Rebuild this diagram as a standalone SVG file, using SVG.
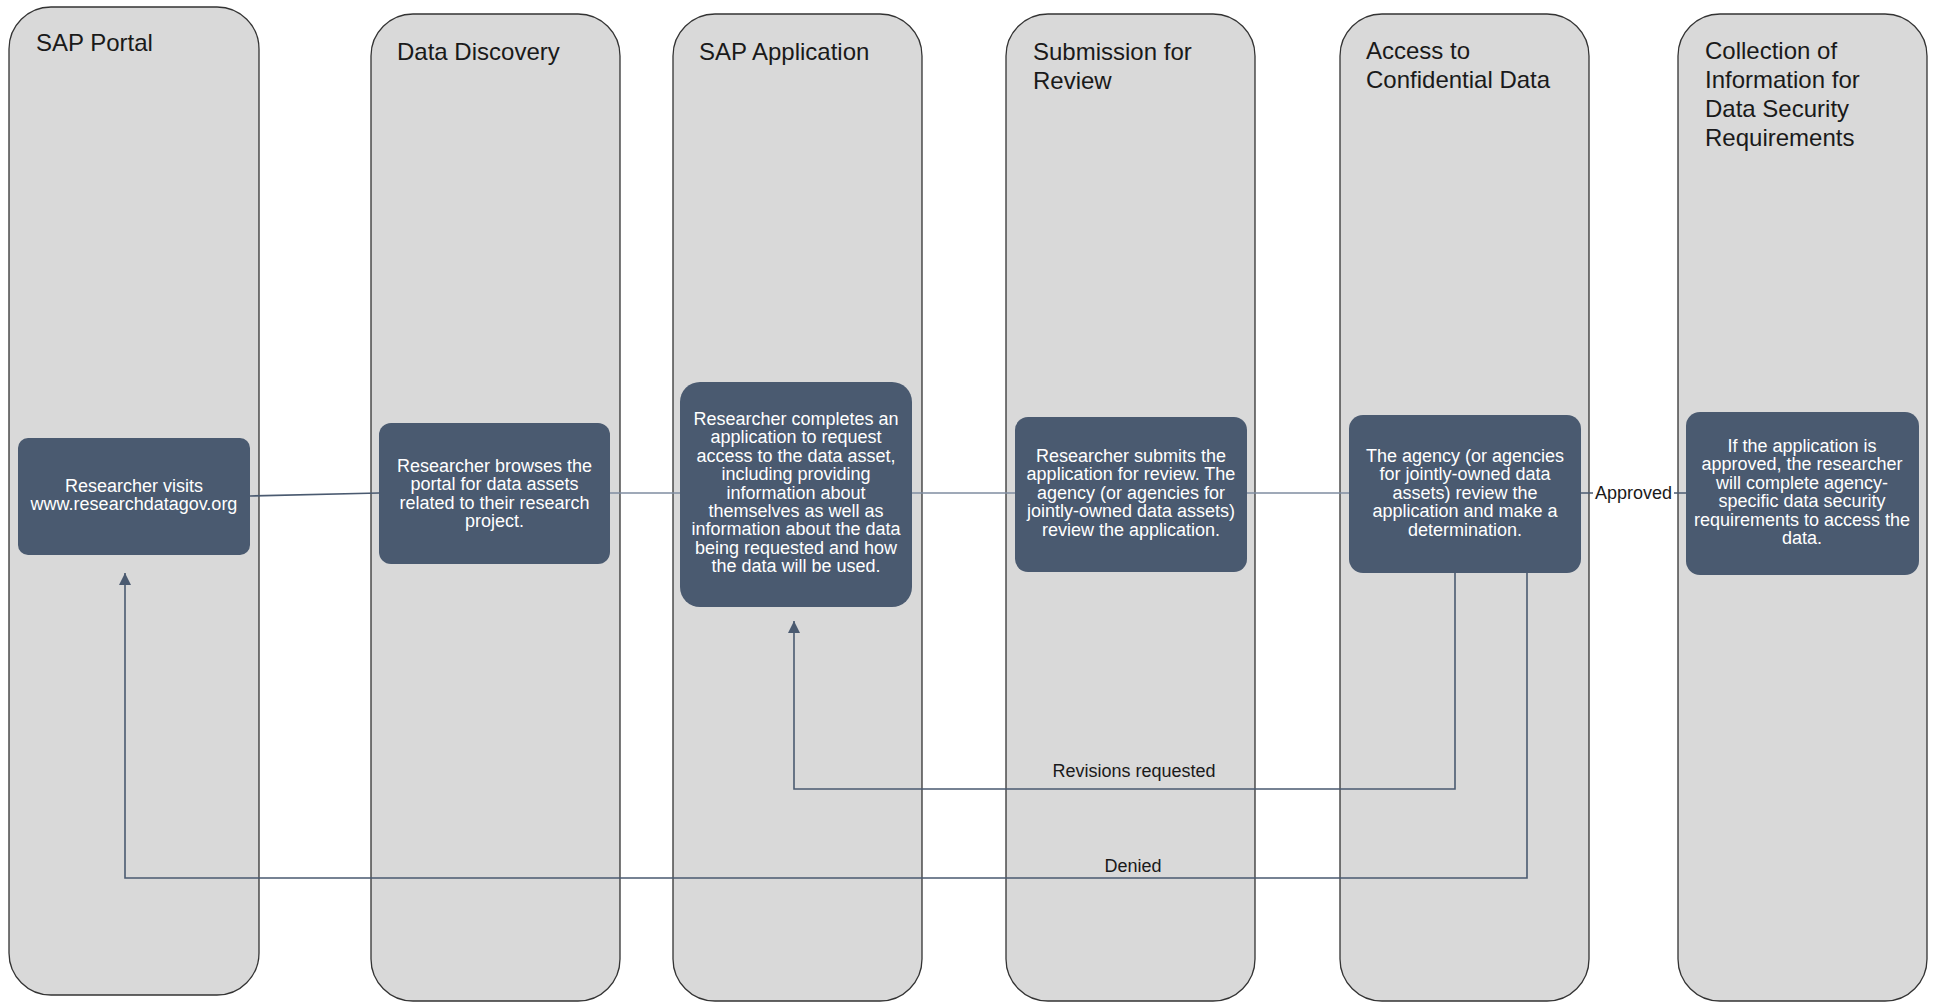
<svg xmlns="http://www.w3.org/2000/svg" width="1936" height="1003" viewBox="0 0 1936 1003">
<style>
.lane{fill:#d9d9d9;stroke:#333333;stroke-width:1.3}
.title{font-family:"Liberation Sans",Arial,sans-serif;font-size:24px;fill:#1a1a1a}
.node{fill:#4a5a70}
.ntext{font-family:"Liberation Sans",Arial,sans-serif;font-size:18px;fill:#ffffff;text-anchor:middle}
.conn{fill:none;stroke:#4a5a70;stroke-width:1.6}
.connl{fill:none;stroke:#7f8ca0;stroke-width:1.6}
.lbl{font-family:"Liberation Sans",Arial,sans-serif;font-size:18px;fill:#1a1a1a;text-anchor:middle}
</style>
<defs>
<marker id="arrow" markerWidth="12" markerHeight="14" refX="12" refY="6" orient="auto" markerUnits="userSpaceOnUse" viewBox="0 0 12 12">
<path d="M0,0 L12,6 L0,12 Z" fill="#4a5a70"/>
</marker>
</defs>
<rect width="1936" height="1003" fill="#ffffff"/>
<g id="lanes">
<g id="lane-sap-portal">
<rect class="lane" x="9" y="7" width="250" height="988" rx="42" ry="42"/>
<text class="title" x="36" y="51">SAP Portal</text>
</g>
<g id="lane-data-discovery">
<rect class="lane" x="371" y="14" width="249" height="987" rx="42" ry="42"/>
<text class="title" x="397" y="60">Data Discovery</text>
</g>
<g id="lane-sap-application">
<rect class="lane" x="673" y="14" width="249" height="987" rx="42" ry="42"/>
<text class="title" x="699" y="60">SAP Application</text>
</g>
<g id="lane-submission">
<rect class="lane" x="1006" y="14" width="249" height="987" rx="42" ry="42"/>
<text class="title" x="1033" y="60">Submission for<tspan x="1033" dy="29">Review</tspan></text>
</g>
<g id="lane-access">
<rect class="lane" x="1340" y="14" width="249" height="987" rx="42" ry="42"/>
<text class="title" x="1366" y="59">Access to<tspan x="1366" dy="29">Confidential Data</tspan></text>
</g>
<g id="lane-collection">
<rect class="lane" x="1678" y="14" width="249" height="987" rx="42" ry="42"/>
<text class="title" x="1705" y="59">Collection of<tspan x="1705" dy="29">Information for</tspan><tspan x="1705" dy="29">Data Security</tspan><tspan x="1705" dy="29">Requirements</tspan></text>
</g>
</g>
<g id="connectors">
<path class="conn" d="M250,496 L379,493"/>
<path class="connl" d="M610,493 L680,493"/>
<path class="connl" d="M912,493 L1015,493"/>
<path class="connl" d="M1247,493 L1349,493"/>
<path class="conn" d="M1581,493 L1686,493"/>
<rect x="1593" y="480" width="81" height="24" fill="#ffffff"/>
<text class="lbl" x="1633.5" y="499">Approved</text>
<path class="conn" d="M1455,573 L1455,789 L794,789 L794,621" marker-end="url(#arrow)"/>
<text class="lbl" x="1134" y="777">Revisions requested</text>
<path class="conn" d="M1527,573 L1527,878 L125,878 L125,573" marker-end="url(#arrow)"/>
<text class="lbl" x="1133" y="872">Denied</text>
</g>
<g id="node-visit">
<rect class="node" x="18" y="438" width="232" height="117" rx="10" ry="10"/>
<text class="ntext" x="134" y="492">Researcher visits<tspan x="134" dy="18.4">www.researchdatagov.org</tspan></text>
</g>
<g id="node-browse">
<rect class="node" x="379" y="423" width="231" height="141" rx="12" ry="12"/>
<text class="ntext" x="494.5" y="472">Researcher browses the<tspan x="494.5" dy="18.4">portal for data assets</tspan><tspan x="494.5" dy="18.4">related to their research</tspan><tspan x="494.5" dy="18.4">project.</tspan></text>
</g>
<g id="node-application">
<rect class="node" x="680" y="382" width="232" height="225" rx="20" ry="20"/>
<text class="ntext" x="796" y="425">Researcher completes an<tspan x="796" dy="18.4">application to request</tspan><tspan x="796" dy="18.4">access to the data asset,</tspan><tspan x="796" dy="18.4">including providing</tspan><tspan x="796" dy="18.4">information about</tspan><tspan x="796" dy="18.4">themselves as well as</tspan><tspan x="796" dy="18.4">information about the data</tspan><tspan x="796" dy="18.4">being requested and how</tspan><tspan x="796" dy="18.4">the data will be used.</tspan></text>
</g>
<g id="node-submit">
<rect class="node" x="1015" y="417" width="232" height="155" rx="13" ry="13"/>
<text class="ntext" x="1131" y="462">Researcher submits the<tspan x="1131" dy="18.4">application for review. The</tspan><tspan x="1131" dy="18.4">agency (or agencies for</tspan><tspan x="1131" dy="18.4">jointly-owned data assets)</tspan><tspan x="1131" dy="18.4">review the application.</tspan></text>
</g>
<g id="node-review">
<rect class="node" x="1349" y="415" width="232" height="158" rx="14" ry="14"/>
<text class="ntext" x="1465" y="462">The agency (or agencies<tspan x="1465" dy="18.4">for jointly-owned data</tspan><tspan x="1465" dy="18.4">assets) review the</tspan><tspan x="1465" dy="18.4">application and make a</tspan><tspan x="1465" dy="18.4">determination.</tspan></text>
</g>
<g id="node-security">
<rect class="node" x="1686" y="412" width="233" height="163" rx="14" ry="14"/>
<text class="ntext" x="1802" y="452">If the application is<tspan x="1802" dy="18.4">approved, the researcher</tspan><tspan x="1802" dy="18.4">will complete agency-</tspan><tspan x="1802" dy="18.4">specific data security</tspan><tspan x="1802" dy="18.4">requirements to access the</tspan><tspan x="1802" dy="18.4">data.</tspan></text>
</g>
</svg>
